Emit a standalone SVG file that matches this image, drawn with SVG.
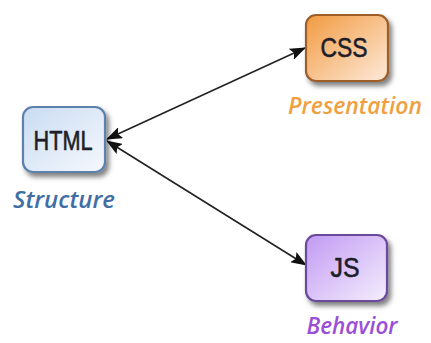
<svg xmlns="http://www.w3.org/2000/svg" width="431" height="343" viewBox="0 0 431 343">
<style>
.box{stroke-width:2.2}
.nt{font-family:"Liberation Sans",Arial,sans-serif;font-size:27px;fill:#1e1e28;stroke:#1e1e28;stroke-width:0.6;text-anchor:middle}
.lb{font-family:"Open Sans","Lato",sans-serif;font-style:italic;font-weight:600;font-size:24px;text-anchor:middle}
.con{stroke:#222;stroke-width:1.6;fill:none}
</style>
<defs>
<linearGradient id="gH" x1="0" y1="0" x2="1" y2="1"><stop offset="0" stop-color="#c9dcf3"/><stop offset="1" stop-color="#f6f8fc"/></linearGradient>
<linearGradient id="gC" x1="0" y1="0" x2="1" y2="1"><stop offset="0" stop-color="#f29a40"/><stop offset="1" stop-color="#fdeadb"/></linearGradient>
<linearGradient id="gJ" x1="0" y1="0" x2="1" y2="1"><stop offset="0" stop-color="#c29af3"/><stop offset="1" stop-color="#f4eefd"/></linearGradient>
<filter id="sh" x="-20%" y="-20%" width="150%" height="150%"><feDropShadow dx="3" dy="4" stdDeviation="2.5" flood-color="#000" flood-opacity="0.5"/></filter>
<marker id="ah" viewBox="0 0 16 12" refX="15" refY="6" markerWidth="16" markerHeight="12" markerUnits="userSpaceOnUse" orient="auto-start-reverse"><path d="M0,0 L16,6 L0,12 L3,6 Z" fill="#111"/></marker>
</defs>
<g id="connectors">
<line class="con" x1="107" y1="139" x2="305" y2="48" marker-start="url(#ah)" marker-end="url(#ah)"/>
<line class="con" x1="107" y1="141" x2="306" y2="265" marker-start="url(#ah)" marker-end="url(#ah)"/>
</g>
<g id="html">
<rect class="box" x="23" y="107" width="82" height="65" rx="10" fill="url(#gH)" stroke="#5b81ab" filter="url(#sh)"/>
<text class="nt" x="63" y="150" textLength="59" lengthAdjust="spacingAndGlyphs">HTML</text>
<text class="lb" x="64" y="208" fill="#3f6ea6" textLength="102" lengthAdjust="spacingAndGlyphs">Structure</text>
</g>
<g id="css">
<rect class="box" x="306" y="15" width="82" height="66" rx="10" fill="url(#gC)" stroke="#9c5f2c" filter="url(#sh)"/>
<text class="nt" x="344" y="57" textLength="47" lengthAdjust="spacingAndGlyphs">CSS</text>
<text class="lb" x="355" y="114" fill="#f0a040" textLength="134" lengthAdjust="spacingAndGlyphs">Presentation</text>
</g>
<g id="js">
<rect class="box" x="306" y="235" width="81" height="66" rx="10" fill="url(#gJ)" stroke="#6a4b9b" filter="url(#sh)"/>
<text class="nt" x="345" y="277" textLength="29" lengthAdjust="spacingAndGlyphs">JS</text>
<text class="lb" x="352" y="334" fill="#9a4fd8" textLength="91" lengthAdjust="spacingAndGlyphs">Behavior</text>
</g>
</svg>
